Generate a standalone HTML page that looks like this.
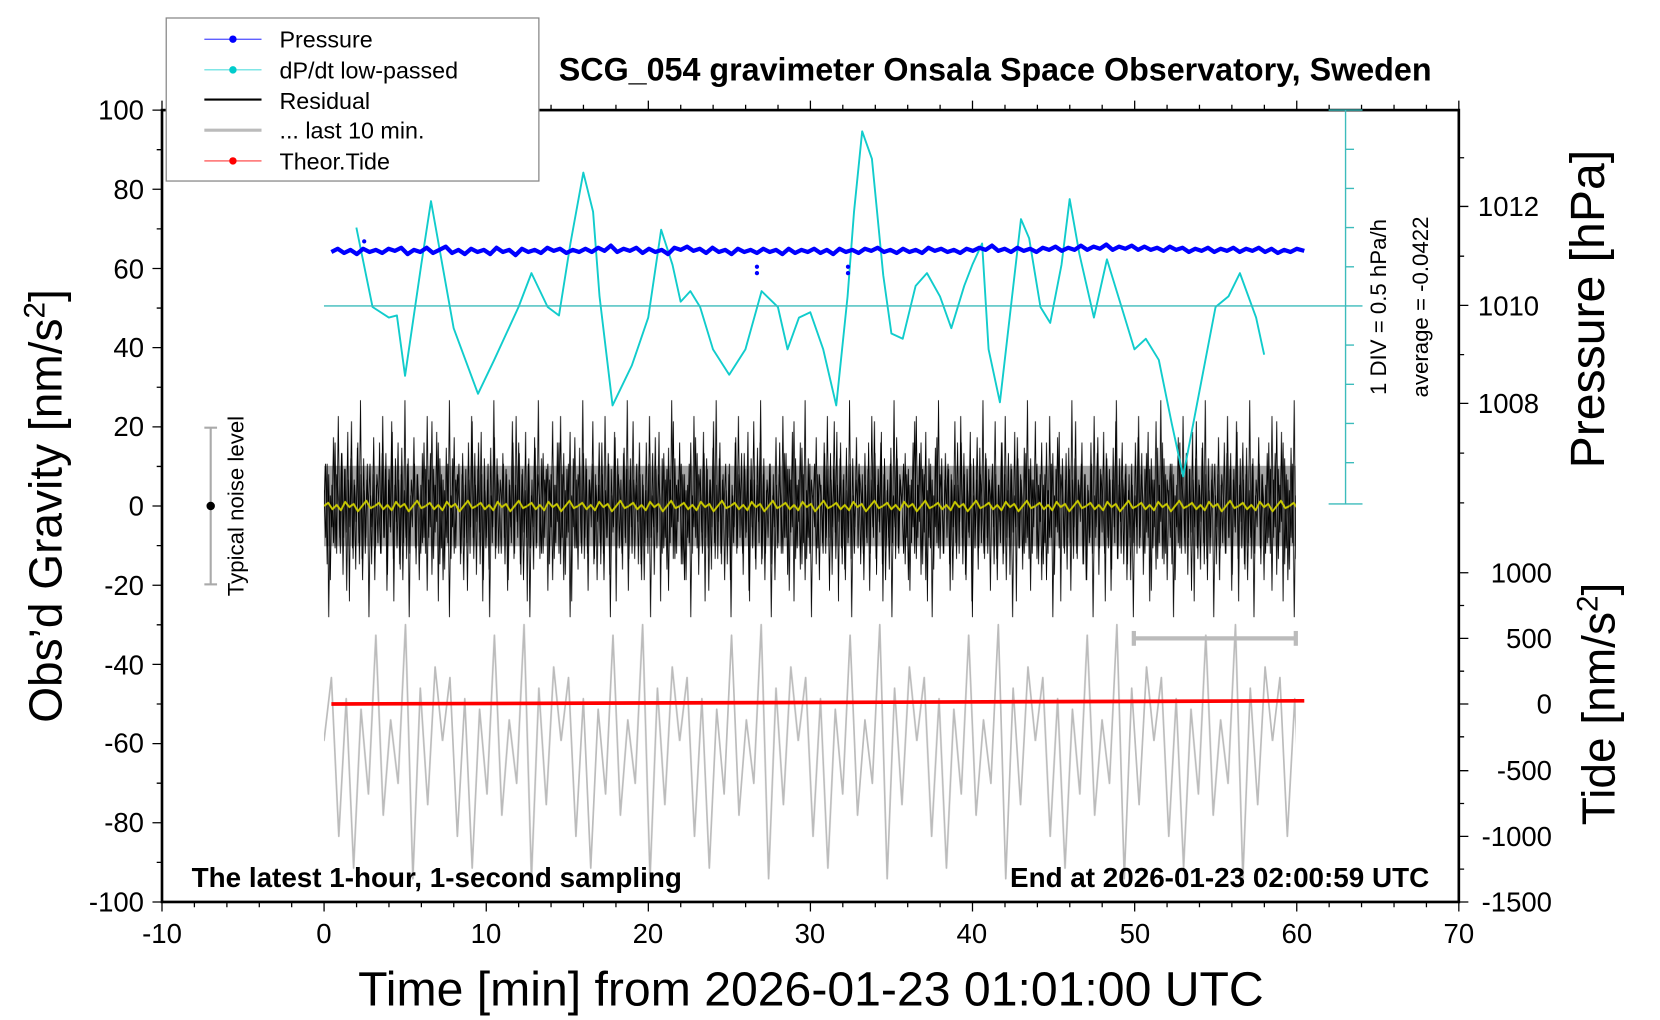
<!DOCTYPE html>
<html><head><meta charset="utf-8"><style>
html,body{margin:0;padding:0;background:#fff;}
svg{display:block;font-family:"Liberation Sans",sans-serif;}
</style></head><body>
<svg width="1660" height="1020" viewBox="0 0 1568 963.5" xmlns="http://www.w3.org/2000/svg">
<defs>
<pattern id="pg" patternUnits="userSpaceOnUse" x="306" y="570" width="112" height="300">
<polyline fill="none" stroke="#bbb" stroke-width="1.6" stroke-linejoin="round" points="0,130 7,70 14,220 21,90 28,250 35,100 42,180 49,30 56,200 63,110 70,170 77,20 84,260 91,80 98,190 105,60 112,130"/>
</pattern>
<pattern id="pb" patternUnits="userSpaceOnUse" x="306" y="358" width="42" height="240">
<polyline fill="none" stroke="#000" stroke-width="0.8" points="0,120 1.5,80 3,175 4.5,90 6,190 7.5,100 9,155 10.5,60 12,165 13.5,35 15,150 16.5,70 18,185 19.5,85 21,145 22.5,50 24,210 25.5,75 27,160 28.5,95 30,180 31.5,65 33,155 34.5,20 36,170 37.5,75 39,165 40.5,95 42,120"/>
</pattern>
<pattern id="pb2" patternUnits="userSpaceOnUse" x="320" y="358" width="38" height="240">
<polyline fill="none" stroke="#000" stroke-width="0.8" points="0,120 1.5,165 3,70 4.5,150 6,85 7.5,200 9,95 10.5,140 12,40 13.5,170 15,100 16.5,135 18,60 19.5,175 21,90 22.5,190 24,105 25.5,150 27,80 28.5,225 30,110 31.5,140 33,55 34.5,160 36,90 38,120"/>
</pattern>
<pattern id="py" patternUnits="userSpaceOnUse" x="306" y="458" width="48" height="40">
<polyline fill="none" stroke="#cc0" stroke-width="1.8" stroke-linejoin="round" points="0,20 4,17 8,23 12,19 16,24 20,16 24,21 28,18 32,25 36,20 40,15 44,22 48,20"/>
</pattern>
</defs>
<rect width="1568" height="963.5" fill="#fff"/>
<rect x="306" y="570" width="918" height="300" fill="url(#pg)"/>
<rect x="306" y="440" width="918" height="76" fill="#000" opacity="0.35"/>
<rect x="306" y="358" width="918" height="240" fill="url(#pb)"/>
<rect x="306" y="358" width="918" height="240" fill="url(#pb2)"/>
<rect x="306" y="458" width="918" height="40" fill="url(#py)"/>
<polyline fill="none" stroke="#1cc" stroke-width="1.8" stroke-linejoin="round" points="336.6,215 351.9,290 367.3,300 374.9,298 382.6,355 397.9,250 407.1,190 417.8,250 428.5,310 451.5,372 466.8,340 489.8,290 502,258 517.3,290 528,298 538.8,230 551,163 560.2,200 566.3,280 578.6,383 596.9,345 612.3,300 624.5,217 635.2,250 642.9,285 652.1,275 661.3,290 673.5,330 688.8,354 704.1,330 719.4,275 734.8,290 743.9,330 754.7,300 765.4,295 777.6,330 789.9,383 800.6,280 806.7,200 814.4,124 823.6,150 834.3,260 842,315 852.7,320 864.9,270 875.6,258 887.9,280 898.6,310 910.8,270 918.5,250 927.7,230 933.8,330 944.5,380 953.7,300 964.4,207 972.1,225 982.8,290 992,305 1002.7,250 1010.4,188 1019.6,240 1033.3,300 1045.6,245 1059.4,290 1071.6,330 1082.3,320 1094.6,340 1106.8,400 1117.6,450 1132.9,370 1148.2,290 1160.4,280 1171.2,258 1186.5,300 1194.1,335"/>
<polyline fill="none" stroke="#00f" stroke-width="4" stroke-linejoin="round" points="313,238 319,235 325,239 331,236 337,240 343,235 349,238 355,236 361,239 367,235 373,237 379,234 385,240 391,236 397,238 403,234 409,239 415,236 421,233 427,239 433,236 439,240 445,235 451,238 457,236 463,240 469,234 475,238 481,236 487,241 493,235 499,238 505,236 511,239 517,234 523,237 529,235 535,239 541,236 547,238 553,235 559,238 565,234 571,237 577,232 583,238 589,235 595,237 601,234 607,239 613,235 619,238 625,236 631,240 637,234 643,236 649,233 655,237 661,235 667,239 673,234 679,238 685,236 691,240 697,235 703,238 709,236 715,239 721,235 727,238 733,236 739,240 745,235 751,239 757,236 763,238 769,235 775,239 781,236 787,240 793,235 799,238 805,236 811,239 817,235 823,237 829,234 835,238 841,236 847,239 853,235 859,238 865,236 871,239 877,234 883,237 889,235 895,238 901,236 907,239 913,235 919,237 925,234 931,236 937,232 943,237 949,235 955,238 961,234 967,237 973,235 979,238 985,234 991,236 997,233 1003,237 1009,234 1015,236 1021,232 1027,236 1033,233 1039,235 1045,231 1051,236 1057,233 1063,235 1069,232 1075,236 1081,233 1087,236 1093,234 1099,237 1105,233 1111,236 1117,234 1123,238 1129,235 1135,237 1141,234 1147,238 1153,235 1159,237 1165,234 1171,238 1177,235 1183,237 1189,234 1195,238 1201,235 1207,239 1213,236 1219,238 1225,235 1232,237"/>
<g fill="#00f"><circle cx="344" cy="228" r="2"/><circle cx="715" cy="252" r="2"/><circle cx="715" cy="258" r="2"/><circle cx="801" cy="252" r="2"/><circle cx="801" cy="258" r="2"/></g>
<line x1="313" y1="665" x2="1232" y2="662" stroke="#f00" stroke-width="3.5"/>
<rect x="153" y="104" width="1225" height="748" fill="none" stroke="#000" stroke-width="2.5"/>
<path stroke="#000" stroke-width="1.2" fill="none" d="M153,852v9M183.6,852v5M214.3,852v5M244.9,852v5M275.5,852v5M306.1,852v9M336.8,852v5M367.4,852v5M398,852v5M428.6,852v5M459.3,852v9M489.9,852v5M520.5,852v5M551.1,852v5M581.8,852v5M612.4,852v9M643,852v5M673.6,852v5M704.3,852v5M734.9,852v5M765.5,852v9M796.1,852v5M826.8,852v5M857.4,852v5M888,852v5M918.6,852v9M949.3,852v5M979.9,852v5M1010.5,852v5M1041.1,852v5M1071.8,852v9M1102.4,852v5M1133,852v5M1163.6,852v5M1194.3,852v5M1224.9,852v9M1255.5,852v5M1286.1,852v5M1316.8,852v5M1347.4,852v5M1378,852v9
M153,104v-9M183.6,104v-5M214.3,104v-5M244.9,104v-5M275.5,104v-5M306.1,104v-9M336.8,104v-5M367.4,104v-5M398,104v-5M428.6,104v-5M459.3,104v-9M489.9,104v-5M520.5,104v-5M551.1,104v-5M581.8,104v-5M612.4,104v-9M643,104v-5M673.6,104v-5M704.3,104v-5M734.9,104v-5M765.5,104v-9M796.1,104v-5M826.8,104v-5M857.4,104v-5M888,104v-5M918.6,104v-9M949.3,104v-5M979.9,104v-5M1010.5,104v-5M1041.1,104v-5M1071.8,104v-9M1102.4,104v-5M1133,104v-5M1163.6,104v-5M1194.3,104v-5M1224.9,104v-9M1255.5,104v-5M1286.1,104v-5M1316.8,104v-5M1347.4,104v-5M1378,104v-9
M153,104h-9M153,141.4h-5M153,178.8h-9M153,216.2h-5M153,253.6h-9M153,291h-5M153,328.4h-9M153,365.8h-5M153,403.2h-9M153,440.6h-5M153,478h-9M153,515.4h-5M153,552.8h-9M153,590.2h-5M153,627.6h-9M153,665h-5M153,702.4h-9M153,739.8h-5M153,777.2h-9M153,814.6h-5M153,852h-9
M1378,149h5M1378,195h9M1378,242h5M1378,288.5h9M1378,335h5M1378,381h9M1378,428h5M1378,475h5
M1378,541h9M1378,572h5M1378,603h9M1378,634h5M1378,665h9M1378,696h5M1378,728h9M1378,759h5M1378,790h9M1378,821h5M1378,852h9"/>
<g stroke="#3cbcbc" stroke-width="1.3" fill="none">
<line x1="1271" y1="104" x2="1271" y2="476"/>
<line x1="1255" y1="104" x2="1287" y2="104"/>
<line x1="1255" y1="476" x2="1287" y2="476"/>
<line x1="306" y1="289" x2="1287" y2="289"/>
<path d="M1271,141h8M1271,178h8M1271,215h8M1271,252h8M1271,326h8M1271,363h8M1271,400h8M1271,437h8"/>
</g>
<text x="1309" y="290" font-size="21" transform="rotate(-90 1309 290)" text-anchor="middle">1 DIV = 0.5 hPa/h</text>
<text x="1349" y="290" font-size="21" transform="rotate(-90 1349 290)" text-anchor="middle">average = -0.0422</text>
<g stroke="#aaa" stroke-width="2"><line x1="199" y1="404" x2="199" y2="552"/><line x1="193" y1="404" x2="205" y2="404"/><line x1="193" y1="552" x2="205" y2="552"/></g>
<circle cx="199" cy="478" r="4" fill="#000"/>
<text x="230" y="478" font-size="21" transform="rotate(-90 230 478)" text-anchor="middle">Typical noise level</text>
<g stroke="#bbb" stroke-width="4"><line x1="1071" y1="603" x2="1224" y2="603"/><line x1="1071" y1="596" x2="1071" y2="610"/><line x1="1224" y1="596" x2="1224" y2="610"/></g>
<text x="940" y="76" font-size="30.5" font-weight="bold" text-anchor="middle">SCG_054 gravimeter Onsala Space Observatory, Sweden</text>
<text x="181" y="838" font-size="26.3" font-weight="bold">The latest 1-hour, 1-second sampling</text>
<text x="1350" y="838" font-size="26.3" font-weight="bold" text-anchor="end">End at 2026-01-23 02:00:59 UTC</text>
<text x="766" y="950" font-size="45.5" text-anchor="middle">Time [min] from 2026-01-23 01:01:00 UTC</text>
<text x="58" y="478" font-size="43.5" transform="rotate(-90 58 478)" text-anchor="middle">Obs’d Gravity [nm/s<tspan font-size="28" dy="-16">2</tspan><tspan dy="16">]</tspan></text>
<text x="1515" y="292" font-size="45.5" transform="rotate(-90 1515 292)" text-anchor="middle">Pressure [hPa]</text>
<text x="1525" y="665" font-size="43.5" transform="rotate(-90 1525 665)" text-anchor="middle">Tide [nm/s<tspan font-size="28" dy="-16">2</tspan><tspan dy="16">]</tspan></text>
<g font-size="26">
<g text-anchor="middle">
<text x="153" y="891">-10</text><text x="306" y="891">0</text><text x="459" y="891">10</text><text x="612" y="891">20</text><text x="765" y="891">30</text><text x="918" y="891">40</text><text x="1072" y="891">50</text><text x="1225" y="891">60</text><text x="1378" y="891">70</text>
</g>
<g text-anchor="end">
<text x="136" y="113">100</text><text x="136" y="188">80</text><text x="136" y="263">60</text><text x="136" y="337">40</text><text x="136" y="412">20</text><text x="136" y="487">0</text><text x="136" y="562">-20</text><text x="136" y="637">-40</text><text x="136" y="711">-60</text><text x="136" y="786">-80</text><text x="136" y="861">-100</text>
<text x="1466" y="550">1000</text><text x="1466" y="612">500</text><text x="1466" y="674">0</text><text x="1466" y="737">-500</text><text x="1466" y="799">-1000</text><text x="1466" y="861">-1500</text>
</g>
<text x="1396" y="204">1012</text><text x="1396" y="298">1010</text><text x="1396" y="390">1008</text>
</g>
<rect x="157" y="17" width="352" height="154" fill="#fff" stroke="#888" stroke-width="1.2"/>
<g font-size="22">
<line x1="193" y1="37" x2="247" y2="37" stroke="#00f" stroke-width="0.8"/><circle cx="220" cy="37" r="3.5" fill="#00f"/><text x="264" y="45">Pressure</text>
<line x1="193" y1="66" x2="247" y2="66" stroke="#0cc" stroke-width="0.8"/><circle cx="220" cy="66" r="3.5" fill="#0cc"/><text x="264" y="74">dP/dt low-passed</text>
<line x1="193" y1="94" x2="247" y2="94" stroke="#000" stroke-width="2"/><text x="264" y="103">Residual</text>
<line x1="193" y1="123" x2="247" y2="123" stroke="#bbb" stroke-width="3"/><text x="264" y="131">... last 10 min.</text>
<line x1="193" y1="152" x2="247" y2="152" stroke="#f00" stroke-width="0.8"/><circle cx="220" cy="152" r="3.5" fill="#f00"/><text x="264" y="160">Theor.Tide</text>
</g>
</svg>
</body></html>
